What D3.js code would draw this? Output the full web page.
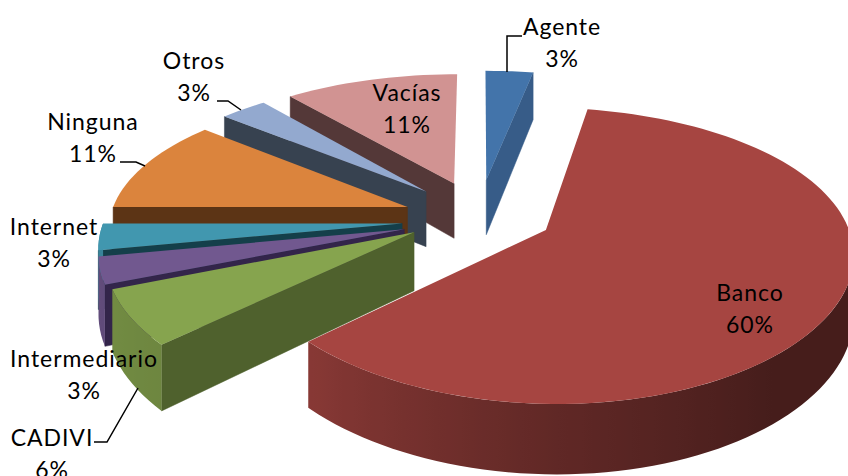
<!DOCTYPE html>
<html>
<head>
<meta charset="utf-8"/>
<style>
body {margin: 0; background: #fff}
svg {display: block}
text {font-family: Lato, "Open Sans", sans-serif; font-size: 23px; letter-spacing: 0.95px; fill: #000; text-anchor: middle}
</style>
</head>
<body>
<div id="my_dataviz"></div>
<script src="https://d3js.org/d3.v7.min.js"></script>
<script>
// data, clockwise from 12 o'clock
var categories = ["Agente", "Banco", "CADIVI", "Intermediario", "Internet", "Ninguna", "Otros", "Vacías"]
var values = [3, 60, 6, 3, 3, 11, 3, 11]

var topColors = ["#4374aa", "#a64541", "#86a44e", "#71588f", "#4197af", "#db843d", "#93a9cf", "#d19392"]
var wallColors = ["#375c88", "#7a2f2c", "#4f612d", "#33254a", "#143f4a", "#5c3415", "#374250", "#543838"]

// how far each slice is pulled out of the pie, and a small drop in px on the left side
var explosions = [0.25, 0.25, 0.255, 0.26, 0.26, 0.26, 0.26, 0.26]
var drops = [0, 0, 0, 6, 7, 6, 3, 3]

// label centres, [x, first line y]
var labelPos = [[562, 35], [750, 301], [52, 446], [84, 367], [54, 235], [93, 130], [194, 69], [407, 101]]
// leader lines
var leaders = [
  [[507, 72], [507, 36], [522, 36]],
  [[217, 101], [228, 101], [241, 110]],
  [[120, 162], [136, 162], [145, 166]],
  [[94, 442], [107, 442], [138, 388]]
]

var width = 848
    height = 476
    cx = 479.5
    cy = 213
    rx = 298
    ry = 138
    perspX = 0.14
    perspY = 0.17
    depth = 57

var svg = d3.select("#my_dataviz").append("svg")
    .attr("width", width)
    .attr("height", height)
var defs = svg.append("defs")

var xScale = d3.scaleLinear().domain([-1, 1]).range([cx - rx, cx + rx])
var yScale = d3.scaleLinear().domain([-1, 1]).range([cy + ry, cy - ry])

var pie = d3.pie().sort(null).value(function(d) { return d })
var slices = pie(values)

var line = d3.line()

// u, v on the pie plane -> screen, z = 1 pushes it down to the bottom face
function project(u, v, z) {
  var sx = 1 / (1 + perspX * v)
  var sy = 1 / (1 + perspY * v)
  return [xScale(u * sx), yScale(v * sy) + z * depth * sy]
}

function rimPoint(d, a, z) {
  var mid = (d.startAngle + d.endAngle) / 2
  var e = explosions[d.index]
  var p = project(Math.sin(a) + e * Math.sin(mid), Math.cos(a) + e * Math.cos(mid), z)
  return [p[0], p[1] + drops[d.index]]
}

function apex(d, z) {
  var mid = (d.startAngle + d.endAngle) / 2
  var e = explosions[d.index]
  var p = project(e * Math.sin(mid), e * Math.cos(mid), z)
  return [p[0], p[1] + drops[d.index]]
}

// how much of the base colour the outer rim keeps, by angle in degrees
var rimShade = d3.scaleLinear().domain([0, 140, 180, 227, 270, 360]).range([0.42, 0.42, 0.58, 0.82, 0.88, 0.88]).clamp(true)

function angles(a0, a1) {
  return d3.range(a0, a1, Math.PI / 90).concat([a1])
}

// paint from the back: the slice reaching furthest to the front goes last
function frontMost(d) {
  var lo = d.startAngle, hi = d.endAngle
  if (lo <= Math.PI && hi >= Math.PI) return -1
  return Math.min(Math.cos(lo), Math.cos(hi))
}
var order = slices.slice().sort(function(a, b) { return frontMost(b) - frontMost(a) })

order.forEach(function(d) {
  var g = svg.append("g")
  var i = d.index

  // radial walls
  ;[[d.startAngle, Math.sin(d.startAngle) < -0.001], [d.endAngle, Math.sin(d.endAngle) > 0.001]].forEach(function(w) {
    if (!w[1]) return
    g.append("path")
      .attr("d", line([apex(d, 0), rimPoint(d, w[0], 0), rimPoint(d, w[0], 1), apex(d, 1)]) + "Z")
      .attr("fill", wallColors[i])
      .attr("stroke", wallColors[i])
      .attr("stroke-width", 0.5)
  })

  // outer rim, only the part turned to the viewer
  var a0 = Math.max(d.startAngle, Math.PI / 2)
  var a1 = Math.min(d.endAngle, 3 * Math.PI / 2)
  if (a1 > a0) {
    var as = angles(a0, a1)
    var x0 = rimPoint(d, a0, 0)[0]
    var x1 = rimPoint(d, a1, 0)[0]
    var grad = defs.append("linearGradient")
      .attr("id", "rim" + i)
      .attr("gradientUnits", "userSpaceOnUse")
      .attr("x1", x0).attr("x2", x1).attr("y1", 0).attr("y2", 0)
    as.forEach(function(a) {
      grad.append("stop")
        .attr("offset", (rimPoint(d, a, 0)[0] - x0) / (x1 - x0))
        .attr("stop-color", d3.interpolateRgb("#000", topColors[i])(rimShade(a * 180 / Math.PI)))
    })
    var rim = as.map(function(a) { return rimPoint(d, a, 0) })
      .concat(as.slice().reverse().map(function(a) { return rimPoint(d, a, 1) }))
    g.append("path")
      .attr("d", line(rim) + "Z")
      .attr("fill", "url(#rim" + i + ")")
  }

  // top face
  var pts = [apex(d, 0)].concat(angles(d.startAngle, d.endAngle).map(function(a) { return rimPoint(d, a, 0) }))
  g.append("path")
    .attr("d", line(pts) + "Z")
    .attr("fill", topColors[i])
})

// leader lines
svg.selectAll(".leader").data(leaders).enter().append("path")
  .attr("class", "leader")
  .attr("d", function(d) { return line(d) })
  .attr("fill", "none")
  .attr("stroke", "#000")
  .attr("stroke-width", 1.5)

// labels
var labels = svg.selectAll(".label").data(slices).enter().append("text")
  .attr("class", "label")
labels.append("tspan")
  .attr("x", function(d) { return labelPos[d.index][0] })
  .attr("y", function(d) { return labelPos[d.index][1] })
  .text(function(d) { return categories[d.index] })
labels.append("tspan")
  .attr("x", function(d) { return labelPos[d.index][0] })
  .attr("y", function(d) { return labelPos[d.index][1] + 32 })
  .text(function(d) { return values[d.index] + "%" })
</script>
</body>
</html>
